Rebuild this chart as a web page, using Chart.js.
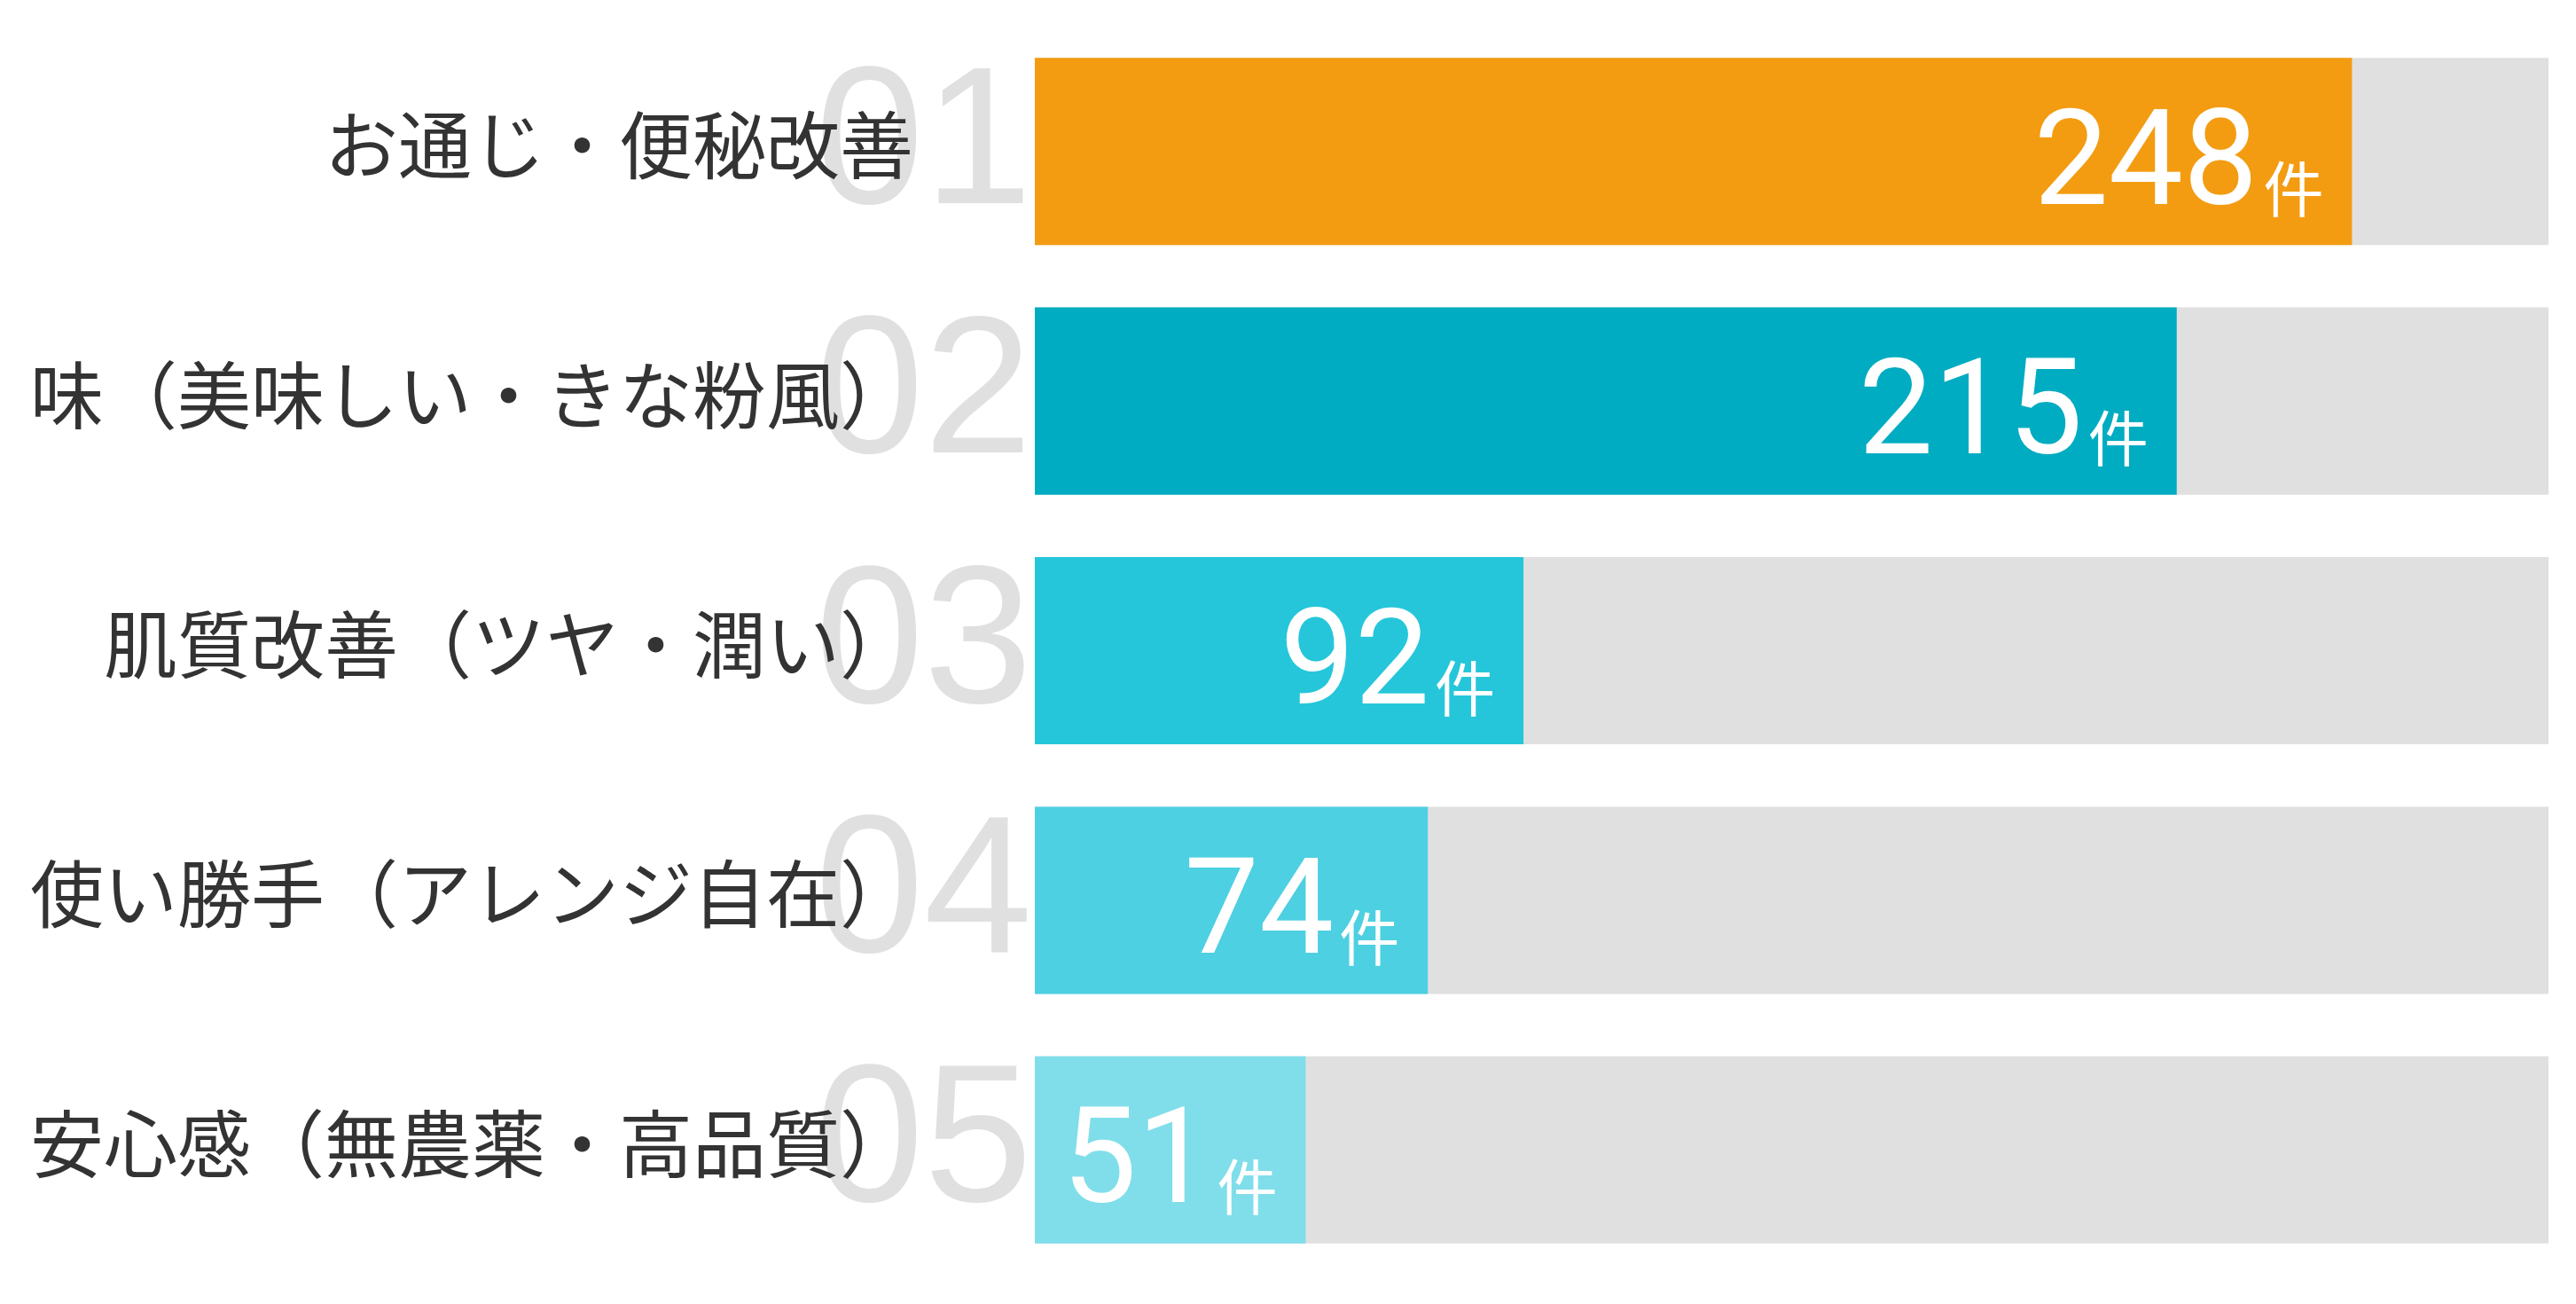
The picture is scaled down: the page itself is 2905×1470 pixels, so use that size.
<!DOCTYPE html>
<html>
<head>
<meta charset="utf-8">
<script src="https://cdn.jsdelivr.net/npm/chart.js@4"></script>
<style>
html, body { margin: 0; padding: 0; background: #fff; }
canvas { display: block; }
</style>
</head>
<body>
<canvas id="chart" width="2905" height="1470"></canvas>
<script>
var labels = ['お通じ・便秘改善', '味（美味しい・きな粉風）', '肌質改善（ツヤ・潤い）', '使い勝手（アレンジ自在）', '安心感（無農薬・高品質）'];
var counts = [248, 215, 92, 74, 51];
var ranks = ['01', '02', '03', '04', '05'];
var unit = '件';
var barColors = ['#F39C12', '#00ACC1', '#26C6DA', '#4DD0E1', '#80DEEA'];
var trackMax = 285;
var track = [285, 285, 285, 285, 285];

// big grey rank numbers, drawn before the axis so labels sit on top
const rankPlugin = {
    id: 'ranks',
    beforeDraw(chart) {
        const ctx = chart.ctx;
        const y = chart.scales.y;
        ctx.save();
        ctx.font = '220px "Liberation Sans Narrow", "Liberation Sans", sans-serif';
        ctx.fillStyle = '#E0E0E0';
        ctx.textAlign = 'right';
        ctx.textBaseline = 'alphabetic';
        for (var i = 0; i < ranks.length; i++) {
            ctx.fillText(ranks[i], chart.chartArea.left - 3, y.getPixelForValue(i) + 58);
        }
        ctx.restore();
    }
};

// "248件" style labels inside the bars
const valuePlugin = {
    id: 'values',
    afterDatasetsDraw(chart) {
        const ctx = chart.ctx;
        const meta = chart.getDatasetMeta(0);
        ctx.save();
        ctx.fillStyle = '#fff';
        ctx.textBaseline = 'alphabetic';
        ctx.textAlign = 'left';
        meta.data.forEach(function (bar, i) {
            ctx.font = '68px "Noto Sans CJK JP"';
            const unitW = ctx.measureText(unit).width;
            const unitX = bar.x - 32 - unitW;
            ctx.fillText(unit, unitX, bar.y + 68);
            ctx.font = '150px Roboto';
            const txt = String(counts[i]);
            const numW = ctx.measureText(txt).width;
            ctx.fillText(txt, unitX - 6 - numW, bar.y + 59);
        });
        ctx.restore();
    }
};

var ctx = document.getElementById('chart').getContext('2d');
var chart = new Chart(ctx, {
    type: 'bar',
    data: {
        labels: labels,
        datasets: [{
            data: counts,
            backgroundColor: barColors,
            borderWidth: 0,
            barPercentage: 0.75,
            categoryPercentage: 1,
            grouped: false,
            order: 0
        }, {
            data: track,
            backgroundColor: '#E0E0E0',
            borderWidth: 0,
            barPercentage: 0.75,
            categoryPercentage: 1,
            grouped: false,
            order: 1
        }]
    },
    options: {
        indexAxis: 'y',
        responsive: false,
        animation: false,
        layout: { padding: { top: 30, bottom: 33, left: 0, right: 31 } },
        plugins: { legend: { display: false }, tooltip: { enabled: false } },
        scales: {
            x: { display: false, min: 0, max: trackMax },
            y: {
                grid: { display: false, drawTicks: false },
                border: { display: false },
                ticks: {
                    color: '#333',
                    font: { family: '"Noto Sans CJK JP"', size: 83 },
                    padding: 137,
                    labelOffset: -7
                },
                afterFit: function (scale) {
                    scale.width = 1167;
                    scale.paddingTop = 0;
                    scale.paddingBottom = 0;
                }
            }
        }
    },
    plugins: [rankPlugin, valuePlugin]
});
</script>
</body>
</html>
